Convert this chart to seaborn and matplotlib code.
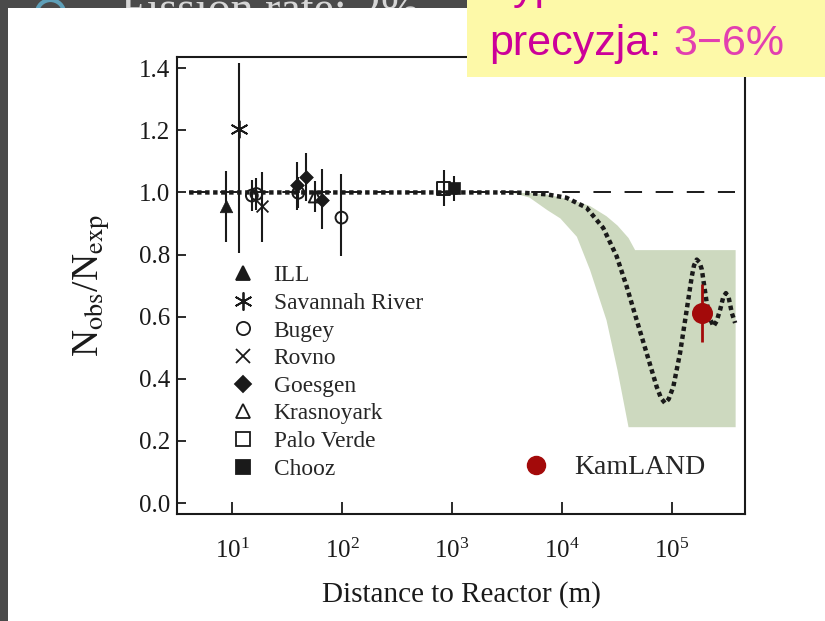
import numpy as np
import matplotlib
matplotlib.use("Agg")
import matplotlib.pyplot as plt
import seaborn as sns
from matplotlib.lines import Line2D
from matplotlib.patches import Rectangle, Ellipse
from matplotlib.text import Annotation
from matplotlib.ticker import NullLocator, FixedLocator, FormatStrFormatter

# ---------------- data ----------------
experiments = ["ILL", "Savannah River", "Bugey", "Rovno", "Goesgen",
               "Krasnoyark", "Palo Verde", "Chooz"]

point_experiment = ["ILL", "Savannah River", "Bugey", "Bugey", "Rovno",
                    "Goesgen", "Bugey", "Goesgen", "Krasnoyark", "Goesgen",
                    "Bugey", "Palo Verde", "Chooz"]
point_distance_m = [8.8, 11.6, 15.1, 16.6, 18.6,
                    38.9, 39.9, 47.3, 56.8, 66.1,
                    98.6, 838.0, 1035.0]
point_ratio = [0.955, 1.203, 0.990, 0.995, 0.955,
               1.023, 0.999, 1.050, 0.988, 0.977,
               0.919, 1.013, 1.013]
point_err_lo = [0.115, 0.397, 0.050, 0.050, 0.113,
                0.078, 0.050, 0.079, 0.050, 0.096,
                0.125, 0.058, 0.040]
point_err_hi = [0.115, 0.213, 0.050, 0.050, 0.110,
                0.074, 0.050, 0.076, 0.050, 0.100,
                0.142, 0.058, 0.040]

kamland_distance_m = [1.87e5]
kamland_ratio = [0.612]
kamland_err_lo = [0.094]
kamland_err_hi = [0.093]

# oscillation expectation (dotted curve)
osc_distance_m = [4.06, 3020, 4406, 7211, 10965, 16672, 23659, 31333, 38637,
                  47643, 58749, 72444, 79433, 86298, 93325, 102802, 118304,
                  136144, 151356, 158489, 167880, 177828, 186638, 207014,
                  223872, 238232, 254097, 274157, 291743, 309030, 327341,
                  349945, 374973]
osc_ratio = [1.0, 1.0, 0.999, 0.994, 0.983, 0.951, 0.886, 0.795, 0.698,
             0.590, 0.483, 0.375, 0.338, 0.322, 0.335, 0.375, 0.483,
             0.623, 0.730, 0.765, 0.784, 0.775, 0.752, 0.644,
             0.590, 0.569, 0.585, 0.623, 0.662, 0.676, 0.662,
             0.612, 0.580]

# no-oscillation line (dashed)
noosc_distance_m = [4.06, 374973]
noosc_ratio = [1.0, 1.0]

# allowed band (shaded)
band_distance_m = [3548, 5012, 7244, 9550, 13490, 17783, 25119, 31623,
                   39811, 45709, 374973]
band_lower = [1.0, 0.985, 0.945, 0.918, 0.859, 0.752, 0.590, 0.429,
              0.246, 0.246, 0.246]
band_upper = [1.0, 1.0, 0.995, 0.985, 0.972, 0.958, 0.925, 0.895,
              0.855, 0.816, 0.816]

x_ticks = [1e1, 1e2, 1e3, 1e4, 1e5]
y_ticks = [0.0, 0.2, 0.4, 0.6, 0.8, 1.0, 1.2, 1.4]

# ---------------- styles ----------------
styles = {
    "ILL":            dict(marker="^", fc="k",    ms=9),
    "Savannah River": dict(marker=(6, 2, 0), fc="k", ms=12),
    "Bugey":          dict(marker="o", fc="none", ms=8.5),
    "Rovno":          dict(marker="x", fc="k",    ms=8.5),
    "Goesgen":        dict(marker="D", fc="k",    ms=7),
    "Krasnoyark":     dict(marker="^", fc="none", ms=9),
    "Palo Verde":     dict(marker="s", fc="none", ms=9),
    "Chooz":          dict(marker="s", fc="k",    ms=9),
}
kam_color = "#a30a0a"

sns.set_theme(style="white")
plt.rcParams["font.family"] = ["Liberation Serif", "DejaVu Serif"]
plt.rcParams["mathtext.fontset"] = "stix"

W, H = 825, 621
fig = plt.figure(figsize=(W / 100, H / 100), dpi=100)
fig.patch.set_facecolor("#4a4a4a")

# slide decorations
fig.add_artist(Rectangle((8 / W, 0), 1, (H - 8) / H, transform=fig.transFigure,
                         fc="white", ec="none", zorder=-5))
fig.text(121 / W, 1 - 23 / H, "Fission rate: 2%", fontsize=33, color="#d6d6d6",
         va="baseline", ha="left", zorder=-10)
fig.add_artist(Ellipse((50.5 / W, 1 - 13.75 / H), 27.5 / W, 27.5 / H,
                       transform=fig.transFigure, fc="none", ec="#5e9fb8",
                       lw=3, zorder=-10))
fig.add_artist(Rectangle((467 / W, 1 - 77 / H), (W - 467) / W, 77 / H,
                         transform=fig.transFigure, fc="#fdf9a8", ec="none",
                         zorder=10))
fig.text(489 / W, 1 + 1 / H, "Typowa", fontsize=31, color="#cc0099",
         family="Liberation Sans", va="baseline", zorder=11)
t1 = fig.text(489 / W, 1 - 55 / H, "precyzja:", fontsize=31, color="#cc0099",
              family="Liberation Sans", va="baseline", zorder=11)
ann = Annotation("3\u22126%", xy=(1, 0), xycoords=t1, xytext=(9, 0),
                 textcoords="offset points", va="bottom", ha="left",
                 fontsize=31, color="#e23fb0", family="Liberation Sans",
                 zorder=11)
fig.add_artist(ann)

# axes
ax = fig.add_axes([177 / W, 1 - 514 / H, (745 - 177) / W, (514 - 57) / H])
ax.set_facecolor("white")
ax.set_xscale("log")

ax.fill_between(band_distance_m, band_lower, band_upper, color="#cdd9bf",
                lw=0, zorder=1)
sns.lineplot(x=noosc_distance_m, y=noosc_ratio, ax=ax, color="k", lw=1.4,
             linestyle=(0, (9, 7)), zorder=2, sort=False, estimator=None)
ax.errorbar(point_distance_m, point_ratio, yerr=[point_err_lo, point_err_hi],
            fmt="none", ecolor="k", elinewidth=1.5, capsize=0, zorder=3)
sns.lineplot(x=osc_distance_m, y=osc_ratio, ax=ax, color="k", lw=3.2,
             linestyle=(0, (1, 0.8)), zorder=4, sort=False, estimator=None)

for name in experiments:
    idx = [i for i, e in enumerate(point_experiment) if e == name]
    xs = [point_distance_m[i] for i in idx]
    ys = [point_ratio[i] for i in idx]
    st = styles[name]
    if st["fc"] == "none":
        sns.scatterplot(x=xs, y=ys, ax=ax, marker=st["marker"], s=st["ms"] ** 2,
                        facecolor="none", edgecolor="k", linewidth=1.4, zorder=5)
    elif name in ("Savannah River", "Rovno"):
        sns.scatterplot(x=xs, y=ys, ax=ax, marker=st["marker"], s=st["ms"] ** 2,
                        color="k", linewidth=1.3, zorder=5)
    else:
        sns.scatterplot(x=xs, y=ys, ax=ax, marker=st["marker"], s=st["ms"] ** 2,
                        color="k", edgecolor="k", linewidth=0.5, zorder=5)

ax.errorbar(kamland_distance_m, kamland_ratio, yerr=[kamland_err_lo, kamland_err_hi],
            fmt="none", ecolor=kam_color, elinewidth=2, capsize=0, zorder=6)
sns.scatterplot(x=kamland_distance_m, y=kamland_ratio, ax=ax, marker="o",
                s=14 ** 2, color=kam_color, edgecolor=kam_color, zorder=7)

ax.set_xlim(3.15, 4.61e5)
ax.set_ylim(-0.035, 1.436)
ax.xaxis.set_major_locator(FixedLocator(x_ticks))
ax.xaxis.set_minor_locator(NullLocator())
ax.yaxis.set_major_locator(FixedLocator(y_ticks))
ax.yaxis.set_major_formatter(FormatStrFormatter("%.1f"))
ax.tick_params(axis="x", which="major", direction="in", length=9, width=1.3,
               pad=18, labelsize=18, bottom=True, top=False, colors="k")
ax.tick_params(axis="y", which="major", direction="in", length=6.5, width=1.3,
               pad=5, labelsize=18, left=True, right=False, colors="k")
for sp in ax.spines.values():
    sp.set_color("k")
    sp.set_linewidth(1.5)
    sp.set_visible(True)
ax.grid(False)

ax.set_xlabel("Distance to Reactor (m)", fontsize=21, labelpad=13, color="k")
ax.set_ylabel(r"N$_{\rm obs}$/N$_{\rm exp}$", fontsize=27, labelpad=19, color="k")

# legends
handles = []
for name in experiments:
    st = styles[name]
    handles.append(Line2D([], [], linestyle="none", marker=st["marker"],
                          markersize=st["ms"] + 1, markerfacecolor=st["fc"],
                          markeredgecolor="k", markeredgewidth=1.3, color="k"))
leg = ax.legend(handles, experiments, loc="upper left",
                bbox_to_anchor=(0.096, 0.545), frameon=False, fontsize=16.8,
                handlelength=1.0, handletextpad=0.8, labelspacing=0.27,
                borderpad=0, borderaxespad=0)
ax.add_artist(leg)
kh = Line2D([], [], linestyle="none", marker="o", markersize=13,
            markerfacecolor=kam_color, markeredgecolor=kam_color)
ax.legend([kh], ["KamLAND"], loc="upper left", bbox_to_anchor=(0.607, 0.129),
          frameon=False, fontsize=20, handlelength=1.0, handletextpad=0.87,
          borderpad=0, borderaxespad=0)

fig.savefig("out.png", dpi=100, facecolor=fig.get_facecolor())
